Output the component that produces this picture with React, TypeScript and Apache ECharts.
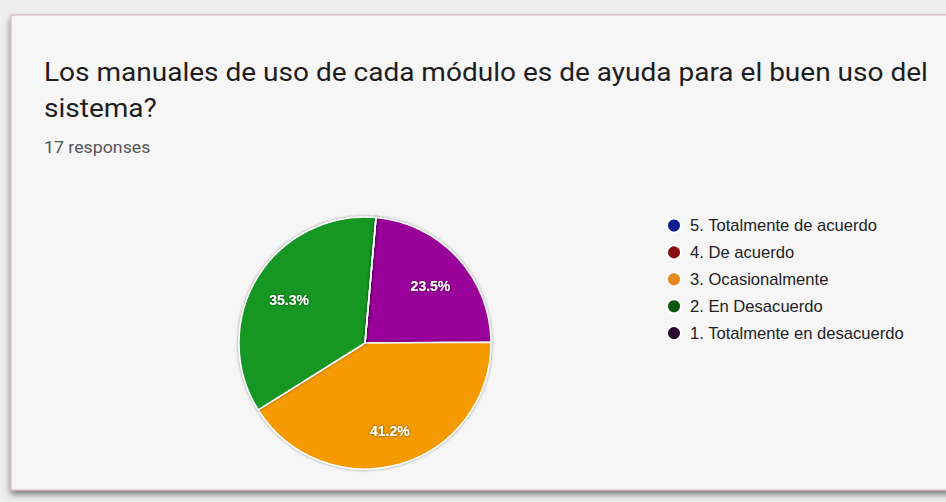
import React, { useEffect, useRef } from "react";
import * as echarts from "echarts";

const titleLines = [
  "Los manuales de uso de cada módulo es de ayuda para el buen uso del",
  "sistema?",
];
const subtitle = "17 responses";
const legendNames = [
  "5. Totalmente de acuerdo",
  "4. De acuerdo",
  "3. Ocasionalmente",
  "2. En Desacuerdo",
  "1. Totalmente en desacuerdo",
];
const legendColors = ["#0d1e8e", "#8c0f0f", "#e58a1c", "#0b560b", "#2a0830"];
// drawing order (clockwise from top)
const sliceNames = [
  "1. Totalmente en desacuerdo",
  "3. Ocasionalmente",
  "2. En Desacuerdo",
  "5. Totalmente de acuerdo",
  "4. De acuerdo",
];
const sliceValues = [4, 7, 6, 0, 0];
const sliceColors = ["#990099", "#f59a00", "#139620", "#3366cc", "#dc3912"];

export default function App() {
  const ref = useRef<HTMLDivElement>(null);
  useEffect(() => {
    if (!ref.current) return;
    const chart = echarts.init(ref.current, undefined, { renderer: "svg" });
    const data = sliceNames.map((n, i) => ({
      name: n,
      value: sliceValues[i],
      itemStyle: { color: sliceColors[i] },
    }));
    const total = sliceValues.reduce((a, b) => a + b, 0);
    chart.setOption({
      animation: false,
      backgroundColor: "#efefef",
      graphic: [
        {
          type: "rect",
          shape: { x: 11, y: 15, width: 940, height: 475 },
          style: {
            fill: "#f6f6f6",
            stroke: "#dcaeb3",
            lineWidth: 1,
            shadowBlur: 7,
            shadowOffsetY: 4,
            shadowColor: "rgba(0,0,0,0.5)",
          },
          z: -10,
        },
        {
          type: "text",
          x: 44,
          y: 54,
          scaleX: 1.078,
          style: {
            text: titleLines.join("\n"),
            font: "400 26px Roboto",
            lineHeight: 36,
            fill: "#1e1e1e",
          },
        },
        {
          type: "text",
          x: 44,
          y: 139,
          scaleX: 1.11,
          style: {
            text: subtitle,
            font: "400 16px Roboto",
            fill: "#555555",
          },
        },
      ],
      legend: {
        orient: "vertical",
        left: 661,
        top: 212,
        icon: "circle",
        itemWidth: 22,
        itemHeight: 14,
        itemGap: 9.9,
        textStyle: {
          fontFamily: "Liberation Sans",
          fontSize: 16.6,
          lineHeight: 16,
          color: "#222",
        },
        data: legendNames.map((n, i) => ({ name: n, itemStyle: { color: legendColors[i] } })),
        selectedMode: false,
      },
      series: [
        {
          type: "pie",
          center: [365, 343],
          radius: [0, 126],
          startAngle: 85,
          clockwise: true,
          label: { show: false },
          labelLine: { show: false },
          silent: true,
          itemStyle: {
            borderColor: "#ffffff",
            borderWidth: 1.5,
            shadowBlur: 3,
            shadowColor: "rgba(0,0,0,0.45)",
          },
          data,
        },
        {
          type: "pie",
          center: [365, 346],
          radius: [46, 126],
          startAngle: 85,
          clockwise: true,
          silent: true,
          itemStyle: { color: "rgba(0,0,0,0)" },
          labelLine: { show: false },
          label: {
            show: true,
            position: "inside",
            fontFamily: "Liberation Sans",
            fontWeight: "bold",
            fontSize: 14,
            color: "#ffffff",
            textShadowColor: "rgba(0,0,0,0.7)",
            textShadowBlur: 2,
            formatter: (p: any) =>
              p.value ? ((p.value / total) * 100).toFixed(1) + "%" : "",
          },
          data: sliceNames.map((n, i) => ({ name: n, value: sliceValues[i] })),
        },
      ],
    });
    return () => chart.dispose();
  }, []);
  return (
    <div
      ref={ref}
      style={{ position: "fixed", left: 0, top: 0, width: 946, height: 502 }}
    />
  );
}
